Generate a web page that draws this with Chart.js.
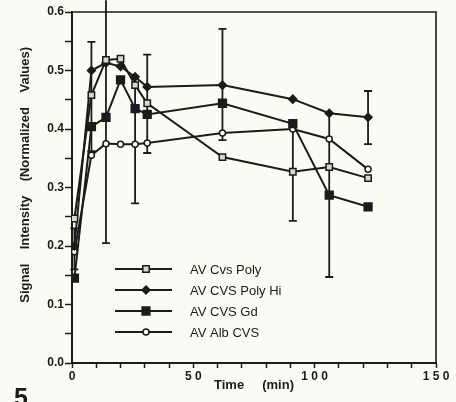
<!DOCTYPE html>
<html>
<head>
<meta charset="utf-8">
<script src="https://cdn.jsdelivr.net/npm/chart.js@4"></script>
<style>
  html, body { margin: 0; padding: 0; background: #fbfbf6; }
  #wrap { width: 456px; height: 402px; }
</style>
</head>
<body>
<div id="wrap"><canvas id="fig"></canvas></div>
<script>
// time points (min)
const times = [1, 8, 14, 20, 26, 31, 62, 91, 106, 122];

// series (normalized signal intensity)
const cvsPoly = [0.247, 0.458, 0.518, 0.520, 0.475, 0.444, 0.352, 0.327, 0.335, 0.316];
const cvsPolyHi = [0.200, 0.500, 0.513, 0.507, 0.489, 0.472, 0.475, 0.451, 0.427, 0.420];
const cvsGd = [0.145, 0.404, 0.420, 0.484, 0.435, 0.425, 0.444, 0.409, 0.287, 0.267];
const albCvs = [0.190, 0.355, 0.375, 0.374, 0.374, 0.376, 0.393, 0.400, 0.383, 0.331];

// error bars: time, low, high
const errTimes = [1, 8, 14, 26, 31, 62, 91, 106, 122];
const errLow = [0.160, 0.362, 0.205, 0.273, 0.359, 0.381, 0.243, 0.147, 0.374];
const errHigh = [0.230, 0.549, 0.620, 0.490, 0.527, 0.571, 0.409, 0.427, 0.465];

const xTickLabels = [0, 50, 100, 150];

const ink = '#1b1b1b';
const font = '"Liberation Sans", Arial, sans-serif';
const toPts = (ys) => ys.map((y, i) => ({x: times[i], y: y}));

const bgPlugin = {
    id: 'bg',
    beforeDraw(chart) {
        const ctx = chart.ctx;
        ctx.save();
        ctx.fillStyle = '#fbfbf6';
        ctx.fillRect(0, 0, chart.width, chart.height);
        ctx.restore();
    }
};

// box round the plot + figure number
const framePlugin = {
    id: 'frame',
    afterDraw(chart) {
        const {ctx, chartArea: a} = chart;
        ctx.save();
        ctx.strokeStyle = ink;
        ctx.lineWidth = 1.6;
        ctx.beginPath();
        ctx.moveTo(a.left, a.top);
        ctx.lineTo(a.right, a.top);
        ctx.lineTo(a.right, a.bottom);
        ctx.stroke();
        ctx.fillStyle = ink;
        ctx.font = 'bold 25px ' + font;
        ctx.textBaseline = 'top';
        ctx.fillText('5', 14, 387);
        ctx.restore();
    }
};

const errorBarPlugin = {
    id: 'errorBars',
    beforeDatasetsDraw(chart) {
        const {ctx, scales: {x, y}} = chart;
        ctx.save();
        ctx.strokeStyle = ink;
        ctx.lineWidth = 1.8;
        errTimes.forEach((t, i) => {
            const px = x.getPixelForValue(t);
            const lo = y.getPixelForValue(errLow[i]);
            const hi = y.getPixelForValue(errHigh[i]);
            ctx.beginPath();
            ctx.moveTo(px, lo);
            ctx.lineTo(px, hi);
            ctx.moveTo(px - 4, lo);
            ctx.lineTo(px + 4, lo);
            if (errHigh[i] <= y.max) {
                ctx.moveTo(px - 4, hi);
                ctx.lineTo(px + 4, hi);
            }
            ctx.stroke();
        });
        ctx.restore();
    }
};

const insetLegendPlugin = {
    id: 'insetLegend',
    afterDatasetsDraw(chart) {
        const ctx = chart.ctx;
        const rows = [269, 290, 311, 332];
        ctx.save();
        ctx.font = '13px ' + font;
        ctx.textBaseline = 'middle';
        chart.data.datasets.forEach((ds, i) => {
            const yy = rows[i];
            ctx.strokeStyle = ink;
            ctx.lineWidth = 2;
            ctx.beginPath();
            ctx.moveTo(115, yy);
            ctx.lineTo(172, yy);
            ctx.stroke();
            ctx.fillStyle = ds.pointBackgroundColor;
            ctx.strokeStyle = ink;
            ctx.lineWidth = 1.5;
            Chart.helpers.drawPoint(ctx, {
                pointStyle: ds.pointStyle,
                radius: ds.pointRadius,
                rotation: 0,
                borderWidth: 1.5
            }, 146, yy);
            ctx.fillStyle = ink;
            ctx.fillText(ds.label, 190, yy + 1);
        });
        ctx.restore();
    }
};

const mkSet = (label, ys, style, radius, fill) => ({
    label: label,
    data: toPts(ys),
    borderColor: ink,
    borderWidth: 2,
    tension: 0,
    pointStyle: style,
    pointRadius: radius,
    pointBorderWidth: 1.5,
    pointBorderColor: ink,
    pointBackgroundColor: fill
});

new Chart(document.getElementById('fig'), {
    type: 'line',
    plugins: [bgPlugin, errorBarPlugin, insetLegendPlugin, framePlugin],
    data: {
        datasets: [
            mkSet('AV Cvs Poly', cvsPoly, 'rect', 4.5, '#d8d8d0'),
            mkSet('AV CVS Poly Hi', cvsPolyHi, 'rectRot', 4, ink),
            mkSet('AV CVS Gd', cvsGd, 'rect', 5.5, ink),
            mkSet('AV Alb CVS', albCvs, 'circle', 3, '#ffffff')
        ]
    },
    options: {
        responsive: true,
        maintainAspectRatio: false,
        animation: false,
        layout: {
            padding: {left: 0, top: 12, right: 20, bottom: 0}
        },
        scales: {
            x: {
                type: 'linear',
                min: 0,
                max: 150,
                afterFit: (s) => { s.height = 39; },
                border: {display: true, color: ink, width: 2},
                grid: {drawOnChartArea: false, color: ink, tickLength: 5, tickWidth: 1.5},
                ticks: {
                    stepSize: 10,
                    autoSkip: false,
                    maxRotation: 0,
                    padding: 1,
                    color: ink,
                    font: {family: font, size: 12, weight: 'bold'},
                    callback: (v) => xTickLabels.includes(v) ? String(v).split('').join(' ') : ''
                },
                title: {
                    display: true,
                    text: 'Time     (min)',
                    color: ink,
                    padding: {top: 0, bottom: 9},
                    font: {family: font, size: 13, weight: 'bold'}
                }
            },
            y: {
                min: 0,
                max: 0.6,
                afterFit: (s) => { s.width = 72; },
                border: {display: true, color: ink, width: 2},
                grid: {drawOnChartArea: false, color: ink, tickLength: 7, tickWidth: 1.5},
                ticks: {
                    stepSize: 0.05,
                    autoSkip: false,
                    padding: 1,
                    color: ink,
                    font: {family: font, size: 12, weight: 'bold'},
                    callback: (v) => Math.abs(v * 10 - Math.round(v * 10)) < 1e-6 ? v.toFixed(1) : ''
                },
                title: {
                    display: true,
                    text: '       Signal    Intensity    (Normalized    Values)',
                    color: ink,
                    padding: {top: 18, bottom: 0},
                    font: {family: font, size: 13, weight: 'bold'}
                }
            }
        },
        plugins: {
            legend: {display: false},
            tooltip: {enabled: false}
        }
    }
});
</script>
</body>
</html>
